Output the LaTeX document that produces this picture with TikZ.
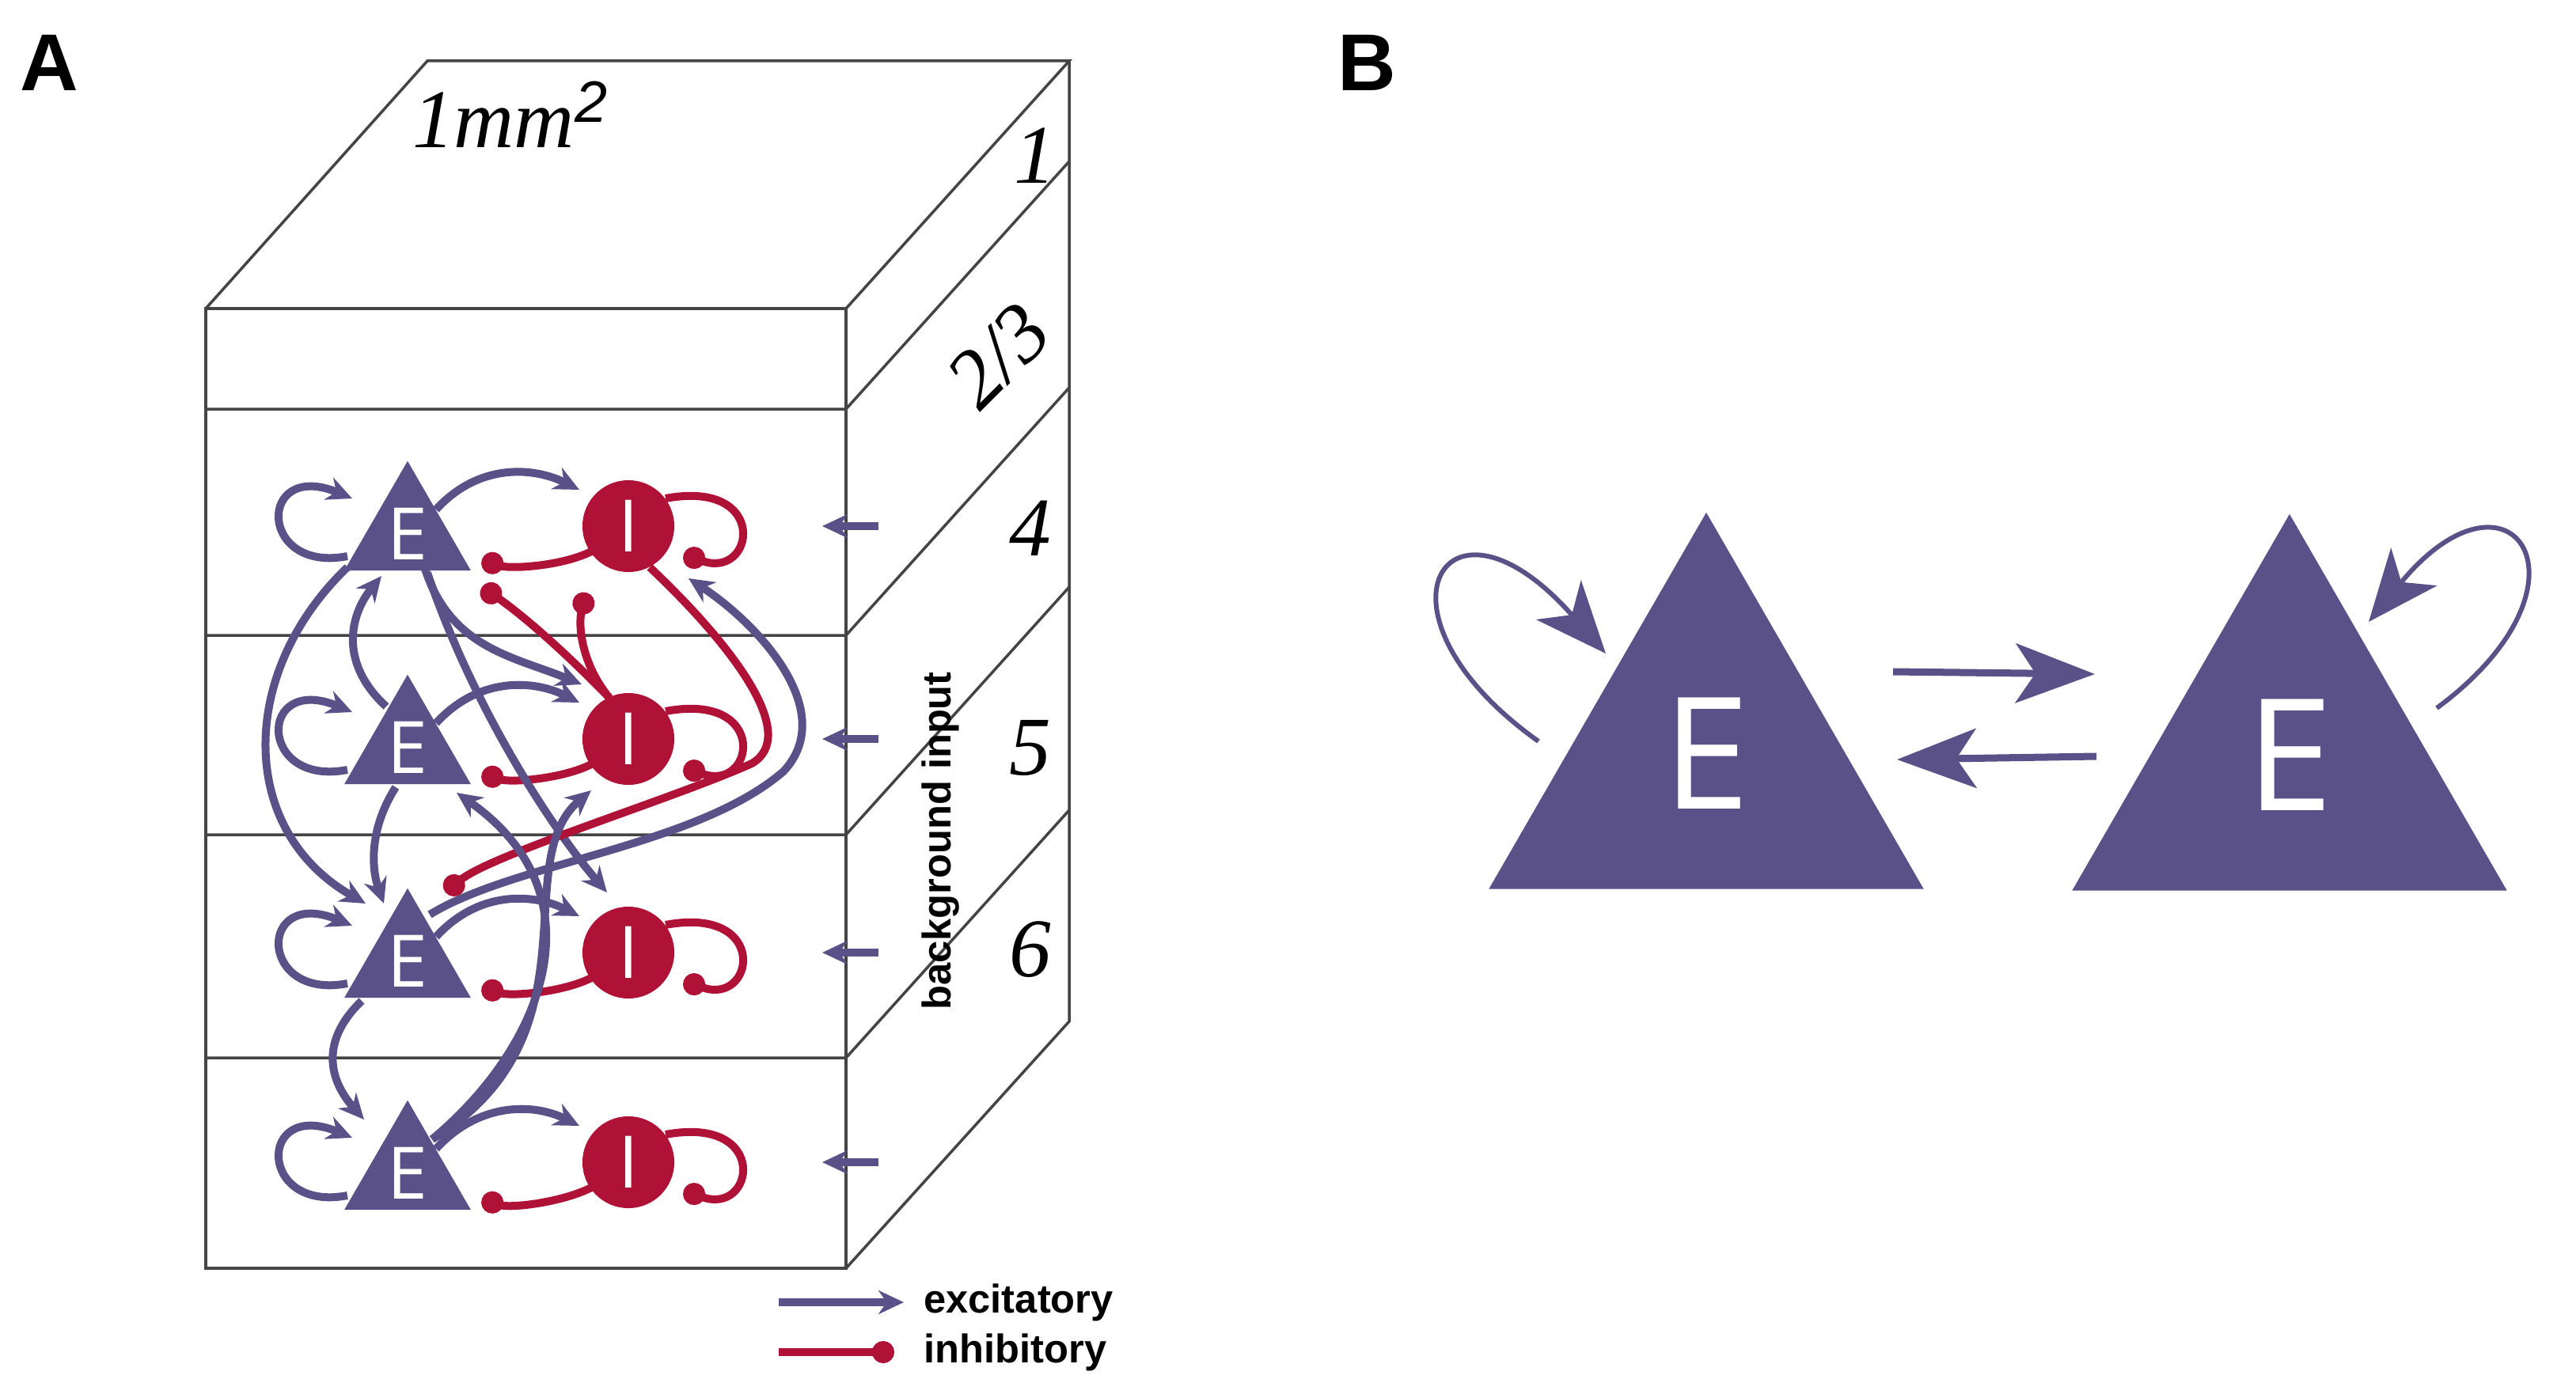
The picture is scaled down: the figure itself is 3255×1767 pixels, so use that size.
\documentclass[tikz,border=0pt]{standalone}
\usepackage{fontspec}
\setmainfont{Liberation Sans}
\newfontfamily\neurofont{Open Sans}
\newfontfamily\layerfont{Liberation Serif}
\usetikzlibrary{shapes.geometric,arrows.meta,calc}
\definecolor{epurple}{HTML}{5A5189}
\definecolor{ired}{HTML}{AF1236}
\definecolor{boxgray}{HTML}{444444}
\tikzset{
  exc/.style={epurple,line width=0.1cm,-{Stealth[length=0.32cm,width=0.3cm]}},
  inh/.style={ired,line width=0.1cm,-{Circle[length=0.28cm]}},
  etri/.style={regular polygon,regular polygon sides=3,minimum size=1.79cm,inner sep=0pt,
    fill=epurple,text=white,font=\neurofont\fontsize{26}{26}\selectfont},
  icirc/.style={circle,minimum size=1.16cm,inner sep=0pt,fill=ired,text=white,
    font=\neurofont\fontsize{26}{26}\selectfont},
  layer/.style={font=\layerfont\itshape\fontsize{30}{30}\selectfont},
  legend/.style={font=\bfseries\fontsize{14.4}{14.4}\selectfont}
}
\begin{document}
\begin{tikzpicture}[x=0.01cm,y=-0.01cm]
		\useasboundingbox (0,0) rectangle (3255,1767);
		%panel letters
		\node[font=\bfseries\fontsize{29}{29}\selectfont] (la) at (62,79) {A};
		\node[font=\bfseries\fontsize{29}{29}\selectfont] (lb) at (1727,79) {B};
		%box
		\draw[boxgray,line width=0.035cm] (260,390) rectangle (1069,1603);
		\draw[boxgray,line width=0.035cm] (260,390) -- (540,77) -- (1351,77) -- (1069,390);
		\draw[boxgray,line width=0.035cm] (1351,77) -- (1351,1291) -- (1069,1603);
		\foreach \fy/\by in {517/204, 803/490, 1055/742, 1337/1024}
			\draw[boxgray,line width=0.035cm] (260,\fy) -- (1069,\fy) -- (1351,\by);
		%labels
		\node[layer] (area) at (645,145) {1mm$^{\mathit 2}$};
		\node[layer] (l1) at (1308,197) {1};
		\node[layer,rotate=45] (l23) at (1262,450) {2/3};
		\node[layer] (l4) at (1302,668) {4};
		\node[layer] (l5) at (1302,945) {5};
		\node[layer] (l6) at (1302,1200) {6};
		\node[legend,rotate=90] (bg) at (1188,1063) {background input};
		%neurons
		\foreach \n/\ey/\iy in {1/675/665, 2/945/934, 3/1215/1204, 4/1483/1469}{
			\node[etri] (e\n) at (515,\ey) {E};
			\node[icirc] (i\n) at (794,\iy) {I};
			\coordinate (bg\n) at (1110,\iy);
		}
		%within layer
		\foreach \n in {1,2,3,4}{
			\draw[exc] ($(e\n)+(-76,28)$) .. controls ($(e\n)+(-190,50)$) and ($(e\n)+(-190,-95)$) .. ($(e\n)+(-70,-45)$);
			\draw[exc] ($(e\n)+(36,-31)$) .. controls ($(e\n)+(90,-90)$) and ($(i\n)+(-120,-75)$) .. ($(i\n)+(-62,-46)$);
			\draw[inh] ($(i\n)+(-45,31)$) .. controls ($(i\n)+(-80,50)$) and ($(e\n)+(130,45)$) .. ($(e\n)+(94,32)$);
			\draw[inh] ($(i\n)+(47,-35)$) .. controls ($(i\n)+(180,-60)$) and ($(i\n)+(160,70)$) .. ($(i\n)+(70,35)$);
			\draw[exc] (bg\n) -- ++(-71,0);
		}
		%between layers
		\draw[exc] ($(e1)+(-76,42)$) .. controls (300,850) and (300,1050) .. ($(e3)+(-53,-73)$);
		\draw[exc] ($(e2)+(-27,-52)$) .. controls (430,840) and (440,780) .. ($(e1)+(-33,53)$);
		\draw[exc] ($(e2)+(-15,50)$) .. controls (465,1050) and (470,1100) .. ($(e3)+(-30,-73)$);
		\draw[exc] ($(e1)+(22,44)$) .. controls (570,820) and (650,830) .. ($(i2)+(-59,-69)$);
		\draw[exc] ($(e1)+(25,49)$) .. controls (600,900) and (700,1050) .. ($(i3)+(-27,-76)$);
		\draw[inh] ($(i2)+(-24,-52)$) .. controls (700,810) and (650,770) .. ($(e1)+(94,67)$);
		\draw[inh] ($(i2)+(-24,-52)$) .. controls (735,840) and (730,790) .. ($(i1)+(-53,84)$);
		\draw[inh] ($(i1)+(27,52)$) .. controls (930,820) and (1010,930) .. (950,965) .. controls (850,1010) and (620,1080) .. ($(e3)+(48,-87)$);
		\draw[exc] ($(e3)+(28,-59)$) .. controls (650,1090) and (880,1070) .. (990,975) .. controls (1060,900) and (960,790) .. ($(i1)+(76,66)$);
		\draw[exc] ($(e4)+(31,-43)$) .. controls (690,1320) and (760,1130) .. ($(e2)+(62,57)$);
		\draw[exc] ($(e4)+(31,-43)$) .. controls (760,1310) and (640,1090) .. ($(i2)+(-47,65)$);
		\draw[exc] ($(e3)+(-58,50)$) .. controls (400,1320) and (420,1370) .. ($(e4)+(-55,-68)$);
		%legend
		\coordinate (lx1) at (984,1646);
		\coordinate (lx2) at (984,1709);
		\draw[exc] (lx1) -- ++(158,0);
		\draw[inh] (lx2) -- ++(146,0);
		\node[legend,anchor=west] (lexc) at (1155,1646) {excitatory};
		\node[legend,anchor=west] (linh) at (1155,1709) {inhibitory};
		%panel B
		\node[etri,minimum size=6.34cm,font=\neurofont\fontsize{56}{56}\selectfont,text depth=0.25cm] (eb1) at (2156,965) {E};
		\node[etri,minimum size=6.34cm,font=\neurofont\fontsize{56}{56}\selectfont,text depth=0.25cm] (eb2) at (2893,967) {E};
		\draw[epurple,line width=0.06cm,-{Stealth[length=0.9cm,width=0.75cm,inset=0.25cm]}] ($(eb1)+(-212,-28)$) .. controls ($(eb1)+(-440,-190)$) and ($(eb1)+(-330,-370)$) .. ($(eb1)+(-127,-139)$);
		\draw[epurple,line width=0.06cm,-{Stealth[length=0.9cm,width=0.75cm,inset=0.25cm]}] ($(eb2)+(186,-72)$) .. controls ($(eb2)+(400,-230)$) and ($(eb2)+(280,-400)$) .. ($(eb2)+(100,-181)$);
		\draw[epurple,line width=0.09cm,-{Stealth[length=1cm,width=0.75cm,inset=0.25cm]}] ($(eb1)+(236,-116)$) -- ($(eb2)+(-246,-115)$);
		\draw[epurple,line width=0.09cm,-{Stealth[length=1cm,width=0.75cm,inset=0.25cm]}] ($(eb2)+(-244,-11)$) -- ($(eb1)+(241,-5)$);
	\end{tikzpicture}
\end{document}
